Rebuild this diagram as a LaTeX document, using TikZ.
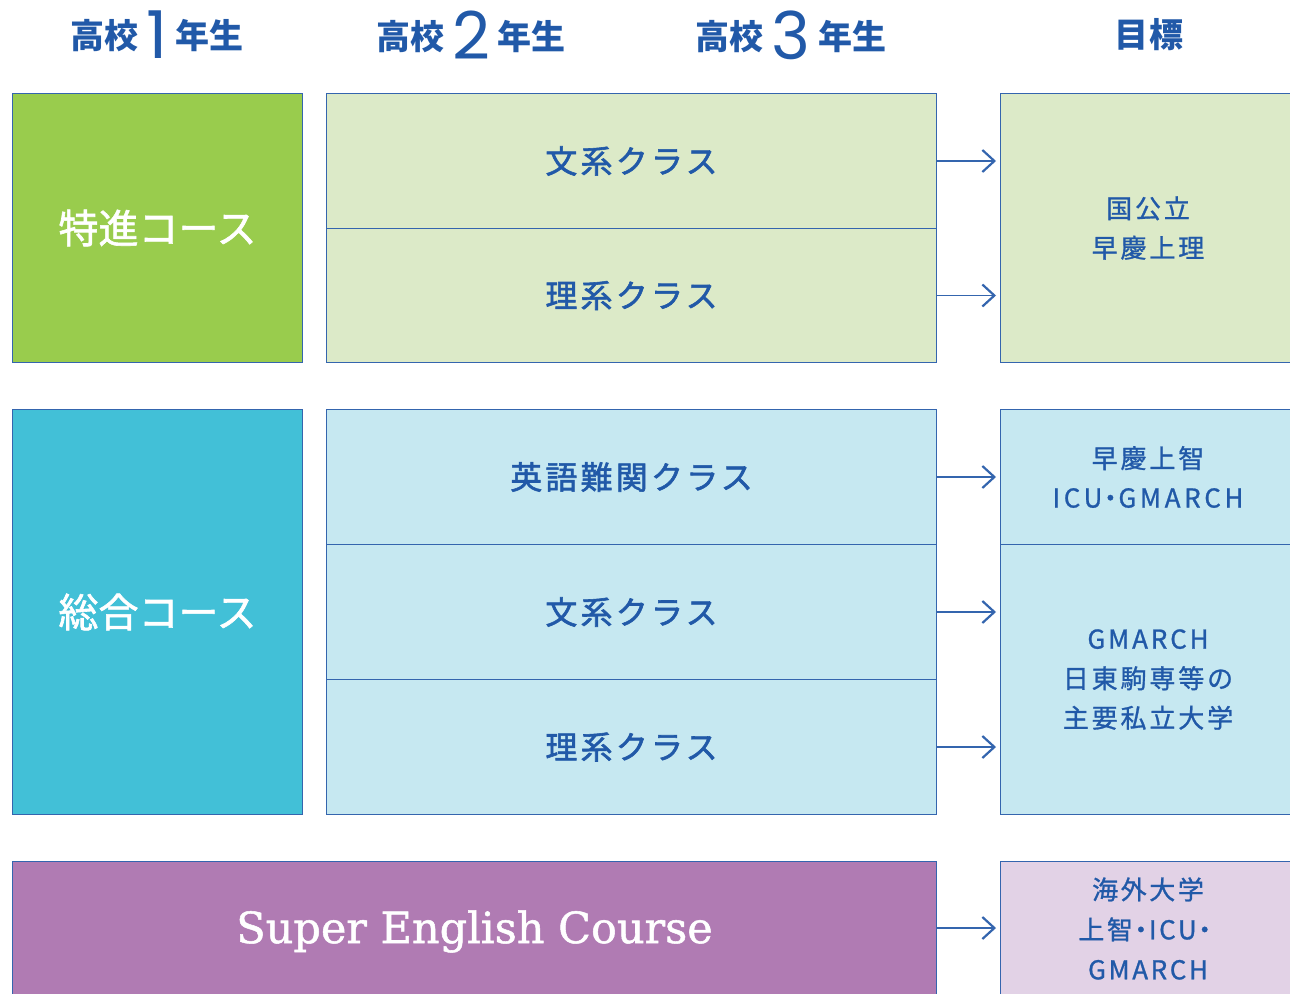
\documentclass[tikz,border=0pt]{standalone}
\usepackage{fontspec}
\usetikzlibrary{arrows.meta}
\newfontfamily\jp{Noto Sans CJK JP}
\newfontfamily\jpcourse[FakeBold=1.5]{Noto Sans CJK JP}
\newfontfamily\jpcls[LetterSpace=10,FakeBold=1.8]{Noto Sans CJK JP}
\newfontfamily\jptgt[LetterSpace=11,FakeBold=1]{Noto Sans CJK JP}
\newfontfamily\jptgtw[LetterSpace=14,FakeBold=1]{Noto Sans CJK JP}
\newfontfamily\jptgtb[LetterSpace=10,FakeBold=1]{Noto Sans CJK JP}
\newfontfamily\digitfont{Poppins}
\newfontfamily\secfont[FakeBold=1.2]{DejaVu Serif}
\definecolor{lineblue}{HTML}{3465AE}
\definecolor{txtblue}{HTML}{2159A8}
\definecolor{dgreen}{HTML}{99CC4D}
\definecolor{lgreen}{HTML}{DCEAC8}
\definecolor{dcyan}{HTML}{42C0D7}
\definecolor{lcyan}{HTML}{C6E8F1}
\definecolor{dpurple}{HTML}{B07BB3}
\definecolor{lpurple}{HTML}{E2D2E6}
\newcommand{\hdg}[1]{{\jp\bfseries 高校}\hspace{8pt}\raisebox{-10pt}{\digitfont\mdseries\fontsize{66}{66}\selectfont #1}\hspace{8pt}{\jp\bfseries 年生}}
\newcommand{\ndot}{\kern-5pt・\kern-5pt}
\begin{document}
\begin{tikzpicture}[x=1pt,y=-1pt,
  box/.style={draw=lineblue, line width=1pt, anchor=north west, inner sep=0pt, text=txtblue, align=center},
  course/.style={box, text=white, font=\jpcourse\fontsize{40}{44}\selectfont},
  cls/.style={box, fill=#1, font=\jpcls\fontsize{32}{38}\selectfont, minimum width=610pt, minimum height=135pt},
  tgt/.style={box, font=\jptgt\fontsize{26}{39.5}\selectfont, minimum width=295pt},
  hd/.style={text=txtblue, font=\jp\bfseries\fontsize{34}{40}\selectfont, inner sep=0pt},
  arr/.style={draw=lineblue, line width=1.8pt, -{Straight Barb[length=12pt,width=22pt,line width=2.2pt]}, shorten >=4pt}
]
\useasboundingbox (0,0) rectangle (1290,993);
% headings
\node[hd] (h1) at (157,35) {\hdg{1}};
\node[hd] (h2) at (471,35) {\hdg{2}};
\node[hd] (h3) at (791,35) {\hdg{3}};
\node[hd] (h4) at (1149,35) {目\hspace{1pt}標};
% 特進
\node[course, fill=dgreen, minimum width=290pt, minimum height=269pt] (tok) at (12,93) {特進コース};
\node[cls=lgreen] (tbun) at (326,93) {文系クラス};
\node[cls=lgreen, minimum height=134pt] (tri) at (326,228) {理系クラス};
\node[tgt, fill=lgreen, minimum height=269pt] (g1) at (1000,93) {国公立\\早慶上理};
% 総合
\node[course, fill=dcyan, minimum width=290pt, minimum height=405pt] (sog) at (12,409) {総合コース};
\node[cls=lcyan] (sei) at (326,409) {英語難関クラス};
\node[cls=lcyan] (sbun) at (326,544) {文系クラス};
\node[cls=lcyan] (sri) at (326,679) {理系クラス};
\node[tgt, fill=lcyan, minimum height=135pt] (g2) at (1000,409) {早慶上智\\{\jptgtw ICU\ndot GMARCH}};
\node[tgt, fill=lcyan, minimum height=270pt] (g3) at (1000,544) {GMARCH\\日東駒専等の\\主要私立大学};
% SEC
\node[box, fill=dpurple, text=white, font=\secfont\fontsize{43}{48}\selectfont, minimum width=924pt, minimum height=140pt] (sec) at (12,861) {Super English Course};
\node[tgt, fill=lpurple, minimum height=134pt, font=\jptgtb\fontsize{26}{40}\selectfont] (g4) at (1000,861) {海外大学\\上智\ndot ICU\ndot\kern5pt\\GMARCH};
\coordinate (secA) at ([yshift=-67pt]sec.north east);
% arrows
\draw[arr] (tbun.east) -- (g1.west |- tbun.east);
\draw[arr] (tri.east) -- (g1.west |- tri.east);
\draw[arr] (sei.east) -- (g2.west);
\draw[arr] (sbun.east) -- (g3.west |- sbun.east);
\draw[arr] (sri.east) -- (g3.west |- sri.east);
\draw[arr] (secA) -- (g4.west |- secA);
\end{tikzpicture}
\end{document}
